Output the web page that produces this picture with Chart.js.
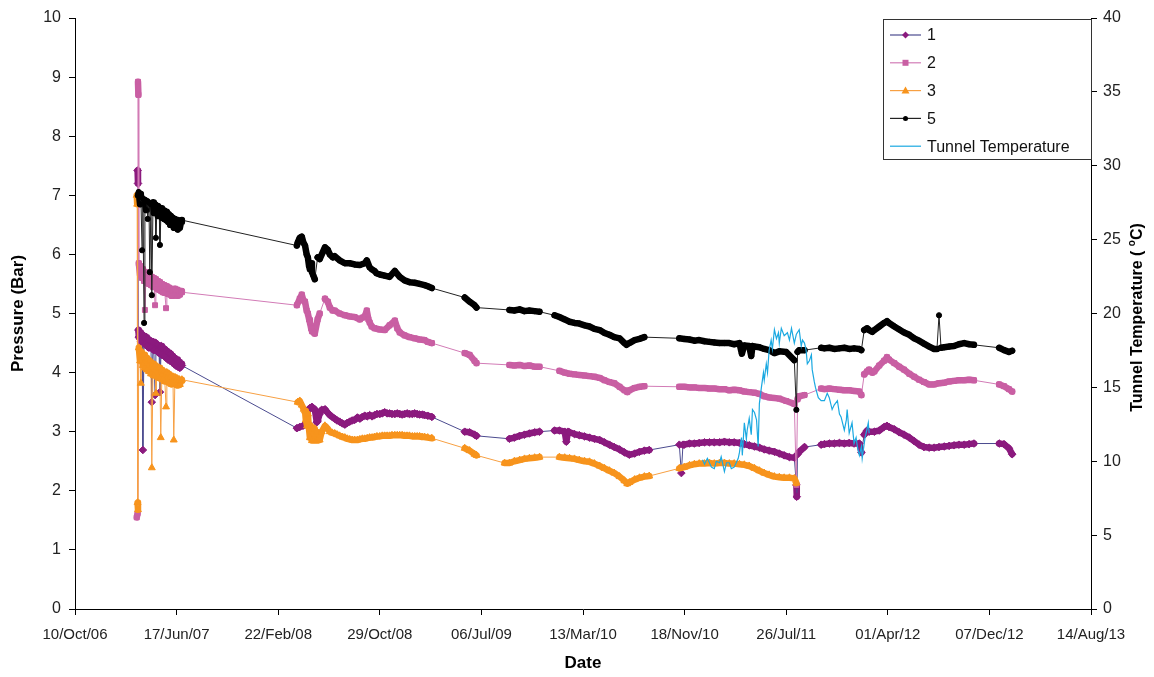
<!DOCTYPE html>
<html>
<head>
<meta charset="utf-8">
<title>Pressure and tunnel temperature</title>
<script src="https://cdn.jsdelivr.net/npm/chart.js@4.4.0/dist/chart.umd.min.js"></script>
<style>
  html, body { margin: 0; padding: 0; background: #fff; }
  #wrap { width: 1154px; height: 677px; }
</style>
</head>
<body>
<div id="wrap"><canvas id="chart" width="1154" height="677"></canvas></div>
<script>
// Dates are Excel serial days (39000 = 10/Oct/06), pressures in bar
const series1 = [
  [39154,7.42],[39155,7.2],[39156,4.72],[39157,4.6],[39160,4.68],[39162,4.52],[39165,4.65],[39167,2.69],[39170,4.62],[39172,4.48],
  [39175,4.6],[39177,4.45],[39179,4.57],[39182,4.42],[39184,4.55],[39187,4.42],[39189,3.5],[39192,4.52],[39194,4.38],[39197,3.62],
  [39199,4.5],[39202,4.36],[39204,4.47],[39207,4.33],[39209,3.67],[39212,4.45],[39214,4.3],[39216,4.42],[39219,4.28],[39221,4.4],
  [39224,4.25],[39226,4.37],[39229,4.22],[39231,4.34],[39234,4.2],[39236,4.32],[39238,4.18],[39241,4.28],[39243,4.15],[39246,4.25],
  [39248,4.12],[39251,4.22],[39253,4.1],[39256,4.18],[39258,4.08],[39261,4.15],[39263,4.12],
  [39546,3.06],[39553,3.08],[39561,3.1],[39566,3.37],[39573,3.35],[39578,3.4],[39583,3.42],[39590,3.38],[39595,3.16],[39597,3.18],
  [39602,3.3],[39607,3.37],[39615,3.38],[39622,3.32],[39627,3.28],[39633,3.25],[39639,3.22],[39645,3.19],[39651,3.17],[39658,3.14],
  [39664,3.12],[39670,3.15],[39676,3.17],[39682,3.19],[39688,3.2],[39695,3.24],[39701,3.22],[39707,3.25],[39713,3.27],[39719,3.26],
  [39725,3.28],[39731,3.26],[39737,3.28],[39743,3.3],[39750,3.3],[39756,3.31],[39762,3.33],[39768,3.31],[39774,3.31],[39780,3.3],
  [39787,3.3],[39793,3.31],[39799,3.3],[39805,3.29],[39811,3.3],[39817,3.31],[39823,3.3],[39830,3.3],[39836,3.31],[39842,3.3],
  [39848,3.29],[39855,3.29],[39860,3.28],[39868,3.27],[39878,3.25],
  [39959,3.0],[39971,2.99],[39983,2.95],[39988,2.93],
  [40069,2.88],[40081,2.9],[40094,2.93],[40106,2.95],[40118,2.97],[40131,2.99],[40143,3.0],
  [40180,3.02],[40192,3.02],[40205,3.0],[40209,2.83],[40213,3.0],[40217,2.99],[40229,2.96],[40241,2.94],[40254,2.92],[40266,2.9],
  [40278,2.88],[40291,2.86],[40303,2.82],[40315,2.78],[40327,2.74],[40340,2.7],[40352,2.65],[40364,2.61],[40377,2.63],[40389,2.66],
  [40401,2.68],[40413,2.69],
  [40487,2.78],[40492,2.3],[40496,2.78],[40499,2.78],[40512,2.8],[40524,2.8],[40536,2.81],[40549,2.82],[40561,2.82],[40573,2.82],
  [40586,2.82],[40598,2.83],[40610,2.82],[40622,2.82],[40635,2.81],[40647,2.79],[40659,2.77],[40672,2.75],[40684,2.73],[40696,2.7],
  [40708,2.68],[40721,2.66],[40733,2.63],[40745,2.6],[40758,2.57],[40770,2.56],[40775,2.1],[40776,1.9],[40778,2.62],[40782,2.66],
  [40795,2.74],
  [40836,2.78],[40844,2.79],[40856,2.8],[40868,2.8],[40881,2.81],[40893,2.8],[40905,2.81],[40917,2.8],[40930,2.8],[40935,2.65],
  [40942,2.95],[40949,3.02],[40954,3.0],[40967,3.0],[40979,3.02],[40991,3.08],[40998,3.1],[41003,3.08],[41016,3.04],[41028,2.99],
  [41040,2.95],[41053,2.9],[41065,2.84],[41077,2.78],[41089,2.74],[41102,2.73],[41114,2.73],[41126,2.74],[41139,2.75],[41151,2.76],
  [41163,2.77],[41175,2.78],[41188,2.78],[41200,2.79],[41212,2.8],
  [41274,2.8],[41286,2.79],[41298,2.72],[41306,2.62]
];

const series2 = [
  [39152,1.55],[39154,1.62],[39155,8.92],[39156,8.7],[39157,5.85],[39160,5.65],[39162,5.8],[39165,5.6],[39167,5.75],[39170,5.55],
  [39172,5.06],[39175,5.7],[39177,5.52],[39179,5.68],[39182,5.5],[39184,5.65],[39187,5.48],[39189,5.62],[39192,5.45],[39194,5.6],
  [39197,5.14],[39199,5.58],[39202,5.42],[39204,5.55],[39207,5.4],[39209,5.53],[39212,5.38],[39214,5.5],[39216,5.36],[39219,5.48],
  [39221,5.35],[39224,5.09],[39226,5.46],[39229,5.33],[39231,5.44],[39234,5.32],[39236,5.42],[39238,5.3],[39241,5.4],[39243,5.3],
  [39246,5.42],[39248,5.32],[39251,5.4],[39253,5.3],[39256,5.38],[39258,5.32],[39261,5.38],[39263,5.36],
  [39546,5.14],[39553,5.25],[39558,5.32],[39562,5.22],[39566,5.2],[39570,5.05],[39573,5.0],[39576,4.9],[39578,4.85],[39581,4.75],
  [39583,4.7],[39587,4.68],[39590,4.66],[39597,4.9],[39602,5.0],[39615,5.25],[39622,5.2],[39627,5.1],[39634,5.05],[39639,5.05],
  [39651,5.0],[39664,4.97],[39676,4.95],[39688,4.94],[39701,4.9],[39707,4.93],[39713,4.95],[39718,5.05],[39722,4.9],[39725,4.85],
  [39730,4.78],[39737,4.75],[39750,4.73],[39762,4.72],[39774,4.8],[39787,4.88],[39793,4.75],[39799,4.68],[39811,4.63],[39823,4.6],
  [39836,4.58],[39848,4.56],[39860,4.55],[39868,4.52],[39878,4.5],
  [39959,4.33],[39971,4.3],[39983,4.2],[39988,4.16],
  [40069,4.13],[40081,4.12],[40094,4.13],[40106,4.11],[40118,4.12],[40131,4.1],[40143,4.1],
  [40192,4.03],[40205,4.0],[40217,3.98],[40229,3.97],[40241,3.96],[40254,3.95],[40266,3.94],[40278,3.93],[40291,3.91],[40303,3.87],
  [40315,3.84],[40327,3.82],[40340,3.76],[40352,3.7],[40359,3.67],[40364,3.7],[40377,3.74],[40389,3.76],[40401,3.77],
  [40487,3.76],[40499,3.76],[40512,3.75],[40524,3.75],[40536,3.74],[40549,3.74],[40561,3.73],[40573,3.73],[40586,3.72],[40598,3.72],
  [40610,3.7],[40622,3.71],[40635,3.7],[40647,3.68],[40659,3.67],[40672,3.66],[40684,3.64],[40696,3.6],[40708,3.58],[40721,3.57],
  [40733,3.56],[40750,3.52],[40770,3.47],[40775,2.1],[40778,3.55],[40782,3.6],[40795,3.62],
  [40836,3.73],[40844,3.72],[40856,3.73],[40868,3.72],[40881,3.71],[40893,3.7],[40905,3.7],[40917,3.69],[40930,3.68],[40935,3.62],
  [40942,3.97],[40949,4.02],[40954,4.05],[40962,4.0],[40967,4.02],[40979,4.12],[40991,4.2],[40998,4.26],[41003,4.22],[41016,4.16],
  [41028,4.1],[41040,4.05],[41053,3.98],[41065,3.93],[41077,3.88],[41089,3.84],[41102,3.8],[41114,3.8],[41126,3.82],[41139,3.83],
  [41151,3.85],[41163,3.86],[41175,3.87],[41188,3.87],[41200,3.88],[41212,3.87],
  [41274,3.8],[41286,3.77],[41298,3.72],[41306,3.68]
];

const series3 = [
  [39152,7.0],[39153,6.85],[39154,1.8],[39155,1.68],[39157,4.42],[39160,4.2],[39162,3.82],[39164,4.35],[39167,4.12],[39170,4.3],
  [39172,4.08],[39175,4.25],[39177,4.05],[39179,4.22],[39182,4.02],[39184,4.2],[39187,3.98],[39189,2.39],[39192,4.15],[39194,3.95],
  [39197,4.12],[39199,3.65],[39202,4.1],[39204,3.92],[39207,4.08],[39209,3.9],[39211,2.9],[39214,4.05],[39216,3.88],[39219,4.02],
  [39221,3.85],[39224,3.42],[39226,4.0],[39229,3.84],[39231,3.98],[39234,3.82],[39236,3.95],[39238,3.8],[39241,3.93],[39243,2.86],
  [39246,3.92],[39248,3.8],[39251,3.9],[39253,3.78],[39256,3.88],[39258,3.8],[39261,3.86],[39263,3.88],
  [39548,3.5],[39553,3.52],[39558,3.45],[39563,3.38],[39566,3.35],[39568,3.2],[39571,3.1],[39573,3.3],[39575,3.1],[39578,2.9],
  [39580,3.1],[39583,2.85],[39585,3.05],[39588,2.85],[39590,3.05],[39593,2.85],[39595,3.0],[39597,2.85],[39602,2.86],[39607,3.0],
  [39615,3.1],[39622,3.05],[39627,3.0],[39633,2.98],[39639,2.97],[39645,2.95],[39651,2.93],[39658,2.91],[39664,2.9],[39670,2.88],
  [39676,2.87],[39682,2.86],[39688,2.86],[39695,2.86],[39701,2.87],[39707,2.88],[39713,2.88],[39719,2.89],[39725,2.9],[39731,2.9],
  [39737,2.91],[39743,2.92],[39750,2.92],[39756,2.93],[39762,2.93],[39768,2.93],[39774,2.93],[39780,2.94],[39787,2.94],[39793,2.94],
  [39799,2.94],[39805,2.94],[39811,2.93],[39817,2.93],[39823,2.93],[39830,2.92],[39836,2.92],[39842,2.92],[39848,2.92],[39854,2.91],
  [39860,2.91],[39868,2.9],[39878,2.89],
  [39959,2.72],[39971,2.68],[39983,2.62],[39988,2.6],
  [40057,2.47],[40069,2.47],[40081,2.5],[40094,2.52],[40106,2.54],[40118,2.55],[40131,2.56],[40143,2.57],
  [40192,2.57],[40205,2.56],[40217,2.55],[40229,2.54],[40241,2.52],[40254,2.5],[40266,2.49],[40278,2.46],[40291,2.42],[40303,2.38],
  [40315,2.34],[40327,2.3],[40340,2.24],[40352,2.17],[40359,2.12],[40364,2.14],[40377,2.19],[40389,2.22],[40401,2.24],[40413,2.25],
  [40487,2.38],[40499,2.4],[40512,2.43],[40524,2.45],[40536,2.46],[40549,2.46],[40561,2.47],[40573,2.46],[40586,2.47],[40598,2.47],
  [40610,2.46],[40622,2.46],[40635,2.45],[40647,2.44],[40659,2.42],[40672,2.38],[40684,2.34],[40696,2.3],[40708,2.27],[40721,2.24],
  [40733,2.23],[40745,2.22],[40758,2.22],[40770,2.21],[40775,2.13]
];

const series5 = [
  [39155,7.0],[39157,7.05],[39160,6.85],[39162,7.02],[39165,6.07],[39167,6.95],[39170,4.84],[39172,6.92],[39175,6.75],[39177,6.9],
  [39179,6.6],[39182,6.88],[39184,5.7],[39187,6.85],[39189,5.31],[39192,6.88],[39194,6.7],[39197,6.85],[39199,6.28],[39202,6.82],
  [39204,6.65],[39207,6.8],[39209,6.16],[39212,6.78],[39214,6.62],[39216,6.76],[39219,6.6],[39221,6.74],[39224,6.58],[39226,6.72],
  [39229,6.55],[39231,6.68],[39234,6.5],[39236,6.65],[39238,6.52],[39241,6.62],[39243,6.45],[39246,6.6],[39248,6.5],[39251,6.58],
  [39253,6.42],[39256,6.56],[39258,6.45],[39261,6.55],[39263,6.58],
  [39546,6.15],[39548,6.2],[39553,6.28],[39558,6.3],[39562,6.2],[39566,6.15],[39570,6.0],[39573,5.95],[39576,5.8],[39578,5.75],
  [39581,5.85],[39583,5.7],[39586,5.65],[39590,5.58],[39597,5.95],[39602,5.92],[39615,6.12],[39622,6.08],[39627,6.0],[39634,5.95],
  [39639,5.97],[39651,5.9],[39664,5.85],[39676,5.85],[39688,5.83],[39701,5.82],[39713,5.85],[39718,5.9],[39725,5.78],[39730,5.75],
  [39737,5.72],[39742,5.68],[39750,5.66],[39762,5.64],[39774,5.62],[39787,5.72],[39799,5.62],[39811,5.56],[39823,5.53],[39836,5.52],
  [39848,5.5],[39860,5.48],[39868,5.46],[39878,5.43],
  [39959,5.27],[39971,5.2],[39983,5.14],[39988,5.1],
  [40069,5.06],[40081,5.05],[40094,5.07],[40106,5.04],[40118,5.05],[40131,5.04],[40143,5.03],
  [40180,4.97],[40192,4.94],[40205,4.9],[40217,4.86],[40229,4.84],[40241,4.83],[40254,4.8],[40266,4.78],[40278,4.74],[40291,4.72],
  [40303,4.67],[40315,4.64],[40327,4.6],[40340,4.58],[40352,4.5],[40357,4.47],[40364,4.5],[40377,4.55],[40389,4.57],[40401,4.6],
  [40487,4.58],[40499,4.57],[40512,4.56],[40524,4.54],[40536,4.55],[40549,4.53],[40561,4.52],[40573,4.51],[40586,4.5],[40598,4.5],
  [40610,4.5],[40622,4.48],[40635,4.5],[40641,4.32],[40647,4.46],[40659,4.45],[40664,4.28],[40667,4.45],[40672,4.44],[40684,4.43],
  [40696,4.4],[40708,4.38],[40721,4.33],[40733,4.36],[40750,4.35],[40770,4.21],[40775,3.37],[40778,4.35],[40782,4.38],[40795,4.38],
  [40836,4.42],[40844,4.41],[40856,4.42],[40868,4.4],[40881,4.41],[40893,4.42],[40905,4.4],[40917,4.41],[40930,4.4],[40935,4.38],
  [40942,4.72],[40949,4.75],[40954,4.72],[40962,4.69],[40967,4.72],[40979,4.78],[40991,4.84],[40998,4.87],[41003,4.84],[41016,4.78],
  [41028,4.73],[41040,4.68],[41053,4.64],[41065,4.58],[41077,4.54],[41089,4.49],[41102,4.44],[41114,4.4],[41121,4.4],[41126,4.97],
  [41131,4.42],[41139,4.43],[41151,4.44],[41163,4.45],[41175,4.48],[41188,4.5],[41200,4.48],[41212,4.47],
  [41274,4.42],[41286,4.38],[41298,4.35],[41306,4.37]
];

// Tunnel temperature, degrees C (right axis)
const tunnelTemp = [
  [40544,10.1],[40549,9.8],[40556,10.2],[40561,9.9],[40566,9.6],[40573,9.5],[40578,10.0],[40586,9.9],[40590,10.3],[40598,9.3],
  [40603,9.9],[40610,9.9],[40615,9.5],[40622,9.6],[40627,9.9],[40632,10.2],[40635,10.6],[40640,11.6],[40642,10.4],[40647,12.6],
  [40652,11.5],[40654,12.1],[40659,12.9],[40664,11.8],[40667,13.5],[40672,13.3],[40677,12.8],[40681,11.0],[40684,13.9],[40689,15.0],
  [40694,16.0],[40696,15.5],[40701,16.6],[40704,16.0],[40708,17.5],[40713,18.2],[40716,17.6],[40721,18.9],[40726,18.3],[40731,18.7],
  [40733,18.0],[40738,19.0],[40745,18.5],[40753,18.7],[40758,18.2],[40763,19.0],[40770,18.0],[40775,18.6],[40782,18.9],[40787,17.8],
  [40790,18.2],[40795,18.0],[40799,17.5],[40802,16.6],[40807,16.8],[40812,17.2],[40814,16.2],[40819,15.4],[40822,15.0],[40826,14.6],
  [40829,14.3],[40836,14.1],[40844,14.1],[40851,14.6],[40856,14.3],[40863,13.5],[40868,13.8],[40876,14.1],[40881,13.2],[40885,13.0],
  [40893,12.1],[40898,12.8],[40900,13.5],[40905,11.9],[40912,12.6],[40917,11.2],[40922,11.6],[40925,11.0],[40930,10.4],[40935,11.0],
  [40937,10.2],[40944,11.6],[40949,12.2],[40952,12.6],[40954,11.9]
];

const xTickLabels = ['10/Oct/06', '17/Jun/07', '22/Feb/08', '29/Oct/08', '06/Jul/09', '13/Mar/10',
  '18/Nov/10', '26/Jul/11', '01/Apr/12', '07/Dec/12', '14/Aug/13'];
const xStart = 39000;
const xStep = 250;

const FONT = "'Liberation Sans', Arial, sans-serif";
Chart.defaults.font.family = FONT;
Chart.defaults.color = '#222';

function toPoints(pairs) {
  return pairs.map(p => ({ x: p[0], y: p[1] }));
}

// logged stretches are drawn heavy, the joins across gaps and spikes stay thin
function dense(ctx) {
  const dx = ctx.p1.parsed.x - ctx.p0.parsed.x;
  const dy = Math.abs(ctx.p1.parsed.y - ctx.p0.parsed.y);
  return dx < 36 && dy < 0.25;
}

function pressureSet(label, pairs, markColor, lineColor, style, radius, order) {
  return {
    label: label,
    data: toPoints(pairs),
    yAxisID: 'y',
    order: order,
    borderColor: lineColor,
    borderWidth: 1,
    borderJoinStyle: 'round',
    borderCapStyle: 'round',
    pointStyle: style,
    pointRadius: radius,
    pointBackgroundColor: markColor,
    pointBorderColor: markColor,
    pointBorderWidth: 1,
    segment: {
      borderWidth: ctx => dense(ctx) ? 6.5 : 1,
      borderColor: ctx => dense(ctx) ? markColor : lineColor
    }
  };
}

const legendItems = [
  { label: '1', line: '#4b4b8f', mark: '#8b1a7e', style: 'diamond' },
  { label: '2', line: '#d27bb6', mark: '#c95fa3', style: 'square' },
  { label: '3', line: '#f7a043', mark: '#f7941d', style: 'triangle' },
  { label: '5', line: '#222222', mark: '#000000', style: 'circle' },
  { label: 'Tunnel Temperature', line: '#1ba9e1', mark: null, style: null }
];

function drawMarker(ctx, style, x, y, color) {
  ctx.fillStyle = color;
  ctx.beginPath();
  if (style === 'diamond') {
    ctx.moveTo(x, y - 3.5); ctx.lineTo(x + 3.5, y); ctx.lineTo(x, y + 3.5); ctx.lineTo(x - 3.5, y);
  } else if (style === 'square') {
    ctx.rect(x - 3, y - 3, 6, 6);
  } else if (style === 'triangle') {
    ctx.moveTo(x, y - 4); ctx.lineTo(x + 4, y + 3); ctx.lineTo(x - 4, y + 3);
  } else {
    ctx.arc(x, y, 2.5, 0, Math.PI * 2);
  }
  ctx.closePath();
  ctx.fill();
}

const overlayPlugin = {
  id: 'overlay',
  afterDraw(chart) {
    const ctx = chart.ctx;
    const area = chart.chartArea;

    // right axis title, reading upwards, with superscript o
    ctx.save();
    ctx.translate(area.right + 47, (area.top + area.bottom) / 2 + 4);
    ctx.rotate(-Math.PI / 2);
    ctx.fillStyle = '#000';
    ctx.textBaseline = 'middle';
    const big = 'bold 16px ' + FONT;
    const small = 'bold 10px ' + FONT;
    const partA = 'Tunnel Temperature ( ';
    const partB = 'o';
    const partC = 'C)';
    ctx.font = big;
    const wA = ctx.measureText(partA).width;
    const wC = ctx.measureText(partC).width;
    ctx.font = small;
    const wB = ctx.measureText(partB).width;
    let x = -(wA + wB + wC) / 2;
    ctx.font = big;
    ctx.fillText(partA, x, 0);
    x += wA;
    ctx.font = small;
    ctx.fillText(partB, x, -6);
    x += wB;
    ctx.font = big;
    ctx.fillText(partC, x, 0);
    ctx.restore();

    // legend box inside the top right corner of the plot
    const boxW = 208, boxH = 140;
    const left = area.right - boxW;
    const top = area.top + 1;
    ctx.save();
    ctx.fillStyle = '#fff';
    ctx.fillRect(left, top, boxW, boxH);
    ctx.strokeStyle = '#333';
    ctx.lineWidth = 1;
    ctx.strokeRect(left + 0.5, top + 0.5, boxW, boxH);
    ctx.font = '16px ' + FONT;
    ctx.textBaseline = 'middle';
    legendItems.forEach((item, i) => {
      const y = top + 16 + i * 27.8;
      ctx.strokeStyle = item.line;
      ctx.lineWidth = 1.2;
      ctx.beginPath();
      ctx.moveTo(left + 7, y);
      ctx.lineTo(left + 38, y);
      ctx.stroke();
      if (item.mark) drawMarker(ctx, item.style, left + 22.5, y, item.mark);
      ctx.fillStyle = '#111';
      ctx.fillText(item.label, left + 44, y + 1);
    });
    ctx.restore();
  }
};

const axisGrid = { display: true, drawOnChartArea: false, drawTicks: true, tickLength: 6, color: '#000' };
const axisBorder = { display: true, color: '#000', width: 1 };

new Chart(document.getElementById('chart'), {
  type: 'line',
  data: {
    datasets: [
      {
        label: 'Tunnel Temperature',
        data: toPoints(tunnelTemp),
        yAxisID: 'y1',
        order: 0,
        borderColor: '#1ba9e1',
        borderWidth: 1.2,
        pointRadius: 0,
        tension: 0
      },
      pressureSet('5', series5, '#000000', '#222222', 'circle', 2.6, 1),
      pressureSet('3', series3, '#f7941d', '#f7a043', 'triangle', 4, 2),
      pressureSet('2', series2, '#c95fa3', '#d27bb6', 'rect', 3.5, 3),
      pressureSet('1', series1, '#8b1a7e', '#4b4b8f', 'rectRot', 3.8, 4)
    ]
  },
  options: {
    responsive: false,
    animation: false,
    devicePixelRatio: 1,
    events: [],
    layout: { padding: { top: 18, left: 0, right: 0, bottom: 0 } },
    plugins: {
      legend: { display: false },
      tooltip: { enabled: false }
    },
    scales: {
      x: {
        type: 'linear',
        min: xStart,
        max: xStart + xStep * (xTickLabels.length - 1),
        grid: axisGrid,
        border: axisBorder,
        ticks: {
          stepSize: xStep,
          autoSkip: false,
          maxRotation: 0,
          padding: 11,
          font: { size: 15 },
          color: '#222',
          callback: v => xTickLabels[Math.round((v - xStart) / xStep)]
        },
        title: {
          display: true,
          text: 'Date',
          color: '#000',
          font: { size: 17, weight: 'bold' },
          padding: { top: 0, bottom: 3 }
        },
        afterFit: scale => { scale.height = 68; }
      },
      y: {
        type: 'linear',
        position: 'left',
        min: 0,
        max: 10,
        grid: axisGrid,
        border: axisBorder,
        ticks: { stepSize: 1, padding: 8, font: { size: 16 }, color: '#222' },
        title: {
          display: true,
          text: 'Pressure (Bar)',
          color: '#000',
          font: { size: 17, weight: 'bold' },
          padding: { top: 8, bottom: 0 }
        },
        afterFit: scale => { scale.width = 75; }
      },
      y1: {
        type: 'linear',
        position: 'right',
        min: 0,
        max: 40,
        grid: axisGrid,
        border: axisBorder,
        ticks: { stepSize: 5, padding: 6, font: { size: 16 }, color: '#222' },
        title: { display: false },
        afterFit: scale => { scale.width = 63; }
      }
    }
  },
  plugins: [overlayPlugin]
});
</script>
</body>
</html>
